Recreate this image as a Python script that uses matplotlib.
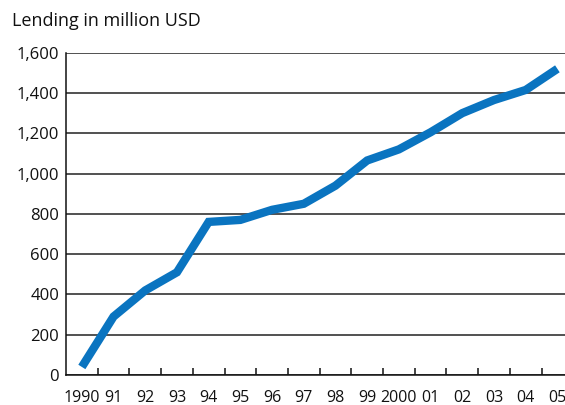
import numpy as np
import matplotlib.pyplot as plt
from matplotlib.ticker import FuncFormatter, FixedLocator

# ---- data ----
year_labels = ["1990", "91", "92", "93", "94", "95", "96", "97",
               "98", "99", "2000", "01", "02", "03", "04", "05"]
lending = [40, 290, 420, 510, 760, 770, 820, 850,
           940, 1065, 1120, 1205, 1300, 1365, 1415, 1520]

plt.rcParams["font.family"] = ["Open Sans", "DejaVu Sans"]

fig = plt.figure(figsize=(5.65, 4.05), dpi=100)
ax = fig.add_axes([66 / 565, 30 / 405, 1 - 66 / 565, (375 - 52.7) / 405])

x = np.arange(len(lending))
ax.plot(x, lending, color="#0A74C0", lw=6, solid_capstyle="butt",
        solid_joinstyle="miter", zorder=3)

ax.set_ylim(0, 1600)
ax.set_xlim(-0.5, len(lending) - 0.76)

# horizontal grid
ax.set_yticks(np.arange(0, 1601, 200))
ax.yaxis.set_major_formatter(FuncFormatter(lambda v, _: f"{int(v):,}"))
ax.grid(axis="y", color="#222222", lw=1.1, zorder=1)
ax.tick_params(axis="y", length=0, pad=5, labelsize=12, colors="#111111")

# year labels centred, tick marks at boundaries pointing inward
ax.set_xticks(x)
ax.set_xticklabels(year_labels)
ax.tick_params(axis="x", which="major", length=0, pad=10.5, labelsize=11.5,
               colors="#111111")
ax.xaxis.set_minor_locator(FixedLocator(np.arange(0.5, len(lending) - 0.5, 1)))
ax.tick_params(axis="x", which="minor", direction="in", length=5, width=1.1,
               color="#111111")

for s in ["top", "right"]:
    ax.spines[s].set_visible(False)
for s in ["left", "bottom"]:
    ax.spines[s].set_linewidth(1.1)
    ax.spines[s].set_color("#111111")

fig.text(12 / 565, 1 - 21 / 405, "Lending in million USD", ha="left",
         va="center", fontsize=13, color="#111111")

fig.savefig("out.png", dpi=100)
